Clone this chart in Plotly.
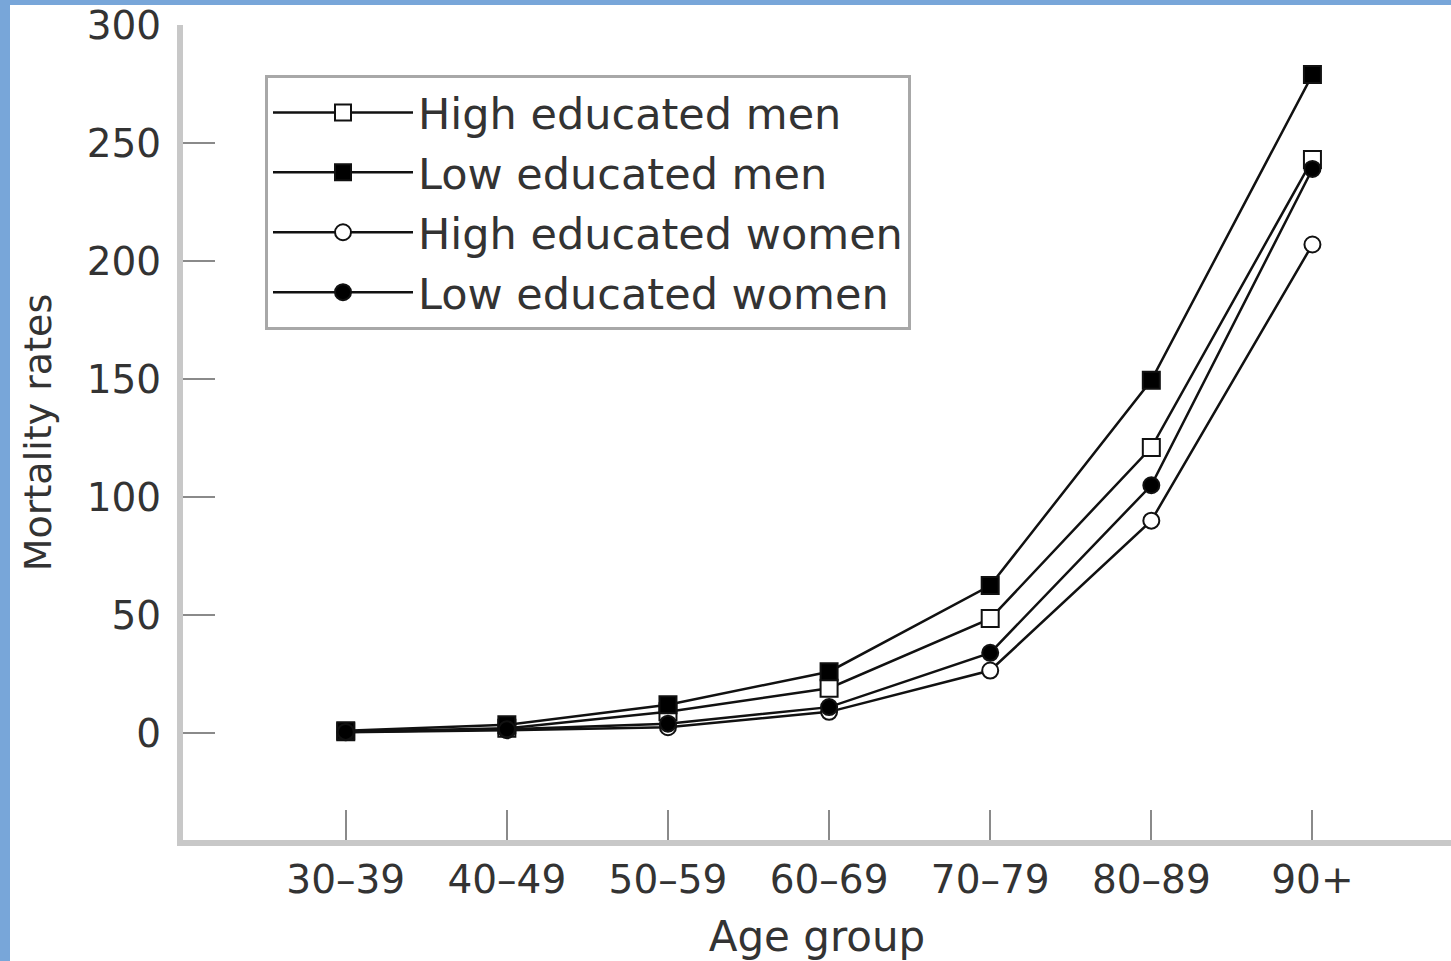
import plotly.graph_objects as go

age_groups = ["30–39", "40–49", "50–59", "60–69", "70–79", "80–89", "90+"]
high_men = [0.6, 2.0, 9, 19, 48.5, 121, 243]
low_men = [1.0, 3.5, 12, 26, 62.5, 149.5, 279]
high_women = [0.3, 1.2, 2.5, 9, 26.5, 90, 207]
low_women = [0.5, 1.6, 4, 11, 34, 105, 239]
y_ticks = [0, 50, 100, 150, 200, 250, 300]

series = [
    ("High educated men", high_men, "square", "white"),
    ("Low educated men", low_men, "square", "black"),
    ("High educated women", high_women, "circle", "white"),
    ("Low educated women", low_women, "circle", "black"),
]

FONT = "DejaVu Sans"
TXT = "#333333"

fig = go.Figure()
for i, (name, vals, sym, fill) in enumerate(series):
    fig.add_trace(go.Scatter(
        x=age_groups, y=vals, name=name, mode="lines+markers",
        legendgroup=f"g{i}",
        line=dict(color="#111111", width=2.5),
        marker=dict(symbol=sym, size=17 if sym == "square" else 16,
                    color=fill, line=dict(color="#111111", width=2)),
    ))

W, H = 1451, 961
L, R, T, B = 183, 0, 25, 121
pw, ph = W - L - R, H - T - B

def px(xp):
    return (xp - L) / pw

def py(yp):
    return 1 - (yp - T) / ph

fig.update_layout(
    width=W, height=H,
    margin=dict(l=L, r=R, t=T, b=B, pad=0),
    paper_bgcolor="white", plot_bgcolor="white",
    font=dict(family=FONT, color=TXT, size=39),
    showlegend=True,
    legend=dict(
        x=px(265), y=py(75), xanchor="left", yanchor="top",
        bgcolor="white", bordercolor="#a8a8a8", borderwidth=3,
        font=dict(family=FONT, size=43, color=TXT),
        tracegroupgap=1, itemsizing="trace", itemwidth=140,
    ),
    xaxis=dict(
        type="category", range=[-1.01, 6.86],
        showline=True, linecolor="#c8c8c8", linewidth=6,
        ticks="inside", ticklen=30, tickwidth=2, tickcolor="#8a8a8a",
        showgrid=False, zeroline=False,
        tickfont=dict(size=39, color=TXT),
        ticklabelstandoff=0,
        title=dict(text="Age group", font=dict(size=42, color=TXT), standoff=26),
    ),
    yaxis=dict(
        range=[-45.3, 300], tickvals=y_ticks,
        showline=True, linecolor="#c8c8c8", linewidth=6,
        ticks="inside", ticklen=32, tickwidth=2, tickcolor="#8a8a8a",
        showgrid=False, zeroline=False,
        tickfont=dict(size=39, color=TXT),
        ticklabelstandoff=8,
        title=dict(text="Mortality rates", font=dict(size=38, color=TXT), standoff=25),
    ),
    shapes=[
        dict(type="rect", xref="paper", yref="paper", x0=px(-20), x1=px(10),
             y0=py(1000), y1=py(-20), fillcolor="#78A6D9", line=dict(width=0), layer="above"),
        dict(type="rect", xref="paper", yref="paper", x0=px(-20), x1=px(1470),
             y0=py(5), y1=py(-20), fillcolor="#78A6D9", line=dict(width=0), layer="above"),
    ],
)

fig.write_html(
    "out.html",
    config={"displayModeBar": False},
    post_script="document.body.style.margin='0';document.body.style.overflow='hidden';",
)
